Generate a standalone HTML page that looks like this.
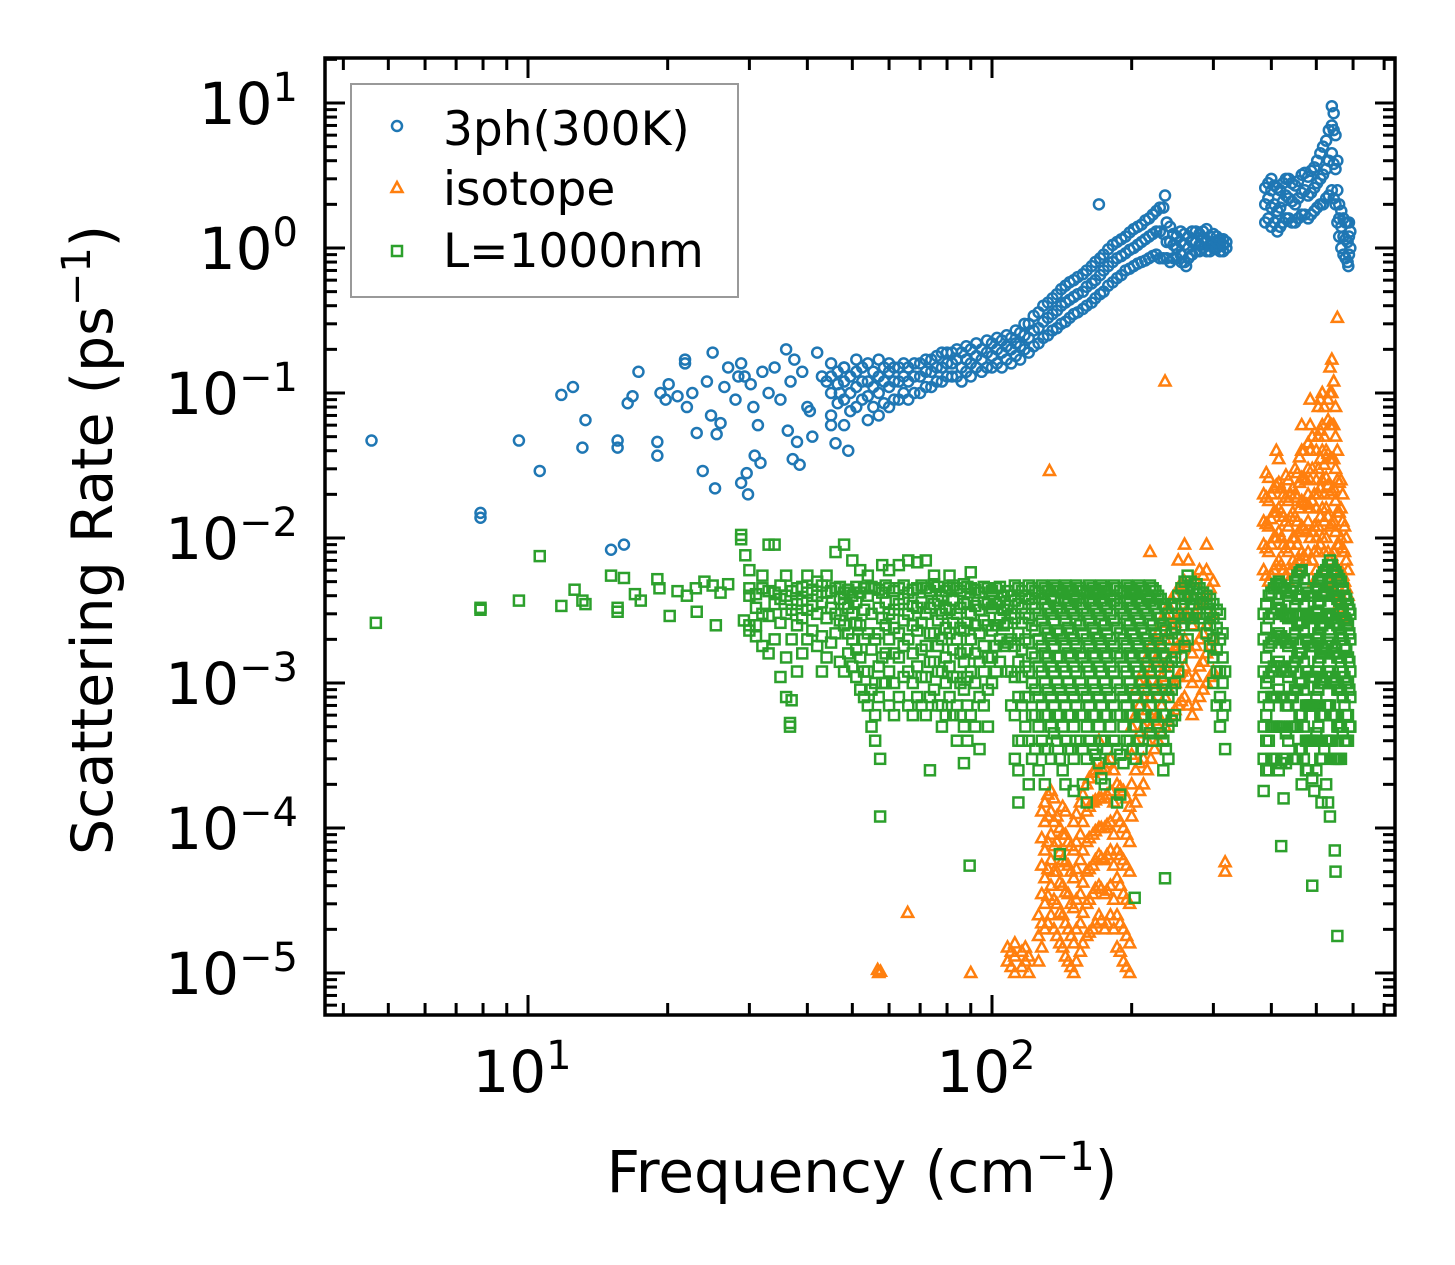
<!DOCTYPE html>
<html><head><meta charset="utf-8"><style>
html,body{margin:0;padding:0;background:#fff;}
svg{display:block;font-family:"DejaVu Sans","Liberation Sans",sans-serif;}
</style></head><body>
<svg id="chart" width="1455" height="1265" viewBox="0 0 1455 1265" xmlns="http://www.w3.org/2000/svg">
<rect width="1455" height="1265" fill="#fff"/>
<g id="marks"></g>
<g id="axes"></g>
<text x="862" y="1192" font-size="58" text-anchor="middle">Frequency (cm<tspan dy="-22" font-size="40">−1</tspan><tspan dy="22">)</tspan></text>
<text transform="translate(112,540) rotate(-90)" font-size="57" text-anchor="middle">Scattering Rate (ps<tspan dy="-22" font-size="40">−1</tspan><tspan dy="22">)</tspan></text>
<g>
<rect x="351" y="84" width="387" height="213" fill="#fff" stroke="#999" stroke-width="2"/>
<circle cx="397" cy="126" r="5" fill="none" stroke="#1f77b4" stroke-width="2.5"/>
<text x="443" y="145" font-size="47">3ph(300K)</text>
<polygon points="397,182 402.5,192 391.5,192" fill="none" stroke="#ff7f0e" stroke-width="2.5"/>
<text x="443" y="205" font-size="47">isotope</text>
<rect x="392" y="246" width="10" height="10" fill="none" stroke="#2ca02c" stroke-width="2.5"/>
<text x="443" y="267" font-size="47">L=1000nm</text>
</g>
</svg>
<script>
// ---- data ----
const threePhSparse = [[4.6,0.047],[7.9,0.0149],[7.9,0.0138],[9.56,0.047],[10.6,0.029],[11.8,0.097],[12.5,0.11],[13.1,0.042],[13.3,0.065],[15.1,0.0083],[16.1,0.009],[15.6,0.047],[15.6,0.042],[16.4,0.085],[16.8,0.095],[17.3,0.14],[19,0.046],[19,0.037],[19.3,0.1],[19.8,0.09],[20.1,0.115],[21,0.095],[21.8,0.17],[21.8,0.16],[22,0.08],[22.6,0.1],[23.1,0.053],[23.8,0.029],[24.3,0.12],[24.8,0.07],[25,0.19],[25.3,0.022],[25.5,0.052],[26,0.062],[26.5,0.11],[27,0.15],[28,0.09],[28.4,0.13],[28.8,0.16],[28.8,0.024],[29.3,0.13],[29.6,0.028],[29.8,0.02],[30.2,0.115],[30.6,0.08],[30.8,0.037],[31.3,0.06],[31.7,0.033],[32,0.14],[33,0.1],[34,0.15],[35,0.09],[36,0.2],[36.3,0.055],[36.8,0.12],[37.2,0.035],[37.5,0.17],[38,0.046],[38.5,0.032],[39,0.14],[40,0.08],[40.5,0.075],[41,0.05],[42,0.19],[43,0.13],[44,0.12],[45,0.06],[46,0.045],[47,0.1],[48,0.15],[49,0.04],[170,2.0],[236,2.3],[256,0.8],[262,0.75],[586,0.75]];
const threePhDense = [[45,[0.07,0.1,0.13,0.16]],[48,[0.06,0.09,0.12,0.15]],[51,[0.08,0.11,0.14,0.17]],[54,[0.065,0.095,0.12,0.16]],[57,[0.07,0.1,0.13,0.17]],[60,[0.08,0.11,0.14,0.16]],[63,[0.09,0.12,0.15]],[66,[0.09,0.12,0.15]],[70,[0.1,0.13,0.16]],[74,[0.11,0.14,0.17]],[78,[0.12,0.15,0.19]],[82,[0.13,0.16,0.19]],[86,[0.12,0.15,0.19]],[90,[0.13,0.16,0.2]],[95,[0.14,0.17,0.2]],[100,[0.15,0.18,0.22]],[105,[0.15,0.19,0.23]],[110,[0.16,0.2,0.24]],[115,[0.17,0.21,0.26]],[120,[0.19,0.24,0.3]],[126,[0.22,0.28,0.36]],[132,[0.25,0.33,0.42]],[138,[0.28,0.37,0.48]],[144,[0.31,0.42,0.55]],[150,[0.35,0.46,0.6]],[157,[0.38,0.5,0.66]],[164,[0.42,0.57,0.75]],[171,[0.48,0.65,0.85]],[178,[0.55,0.75,0.98]],[186,[0.62,0.85,1.1]],[194,[0.7,0.92,1.2]],[202,[0.75,1.0,1.35]],[210,[0.8,1.1,1.45]],[218,[0.85,1.2,1.6]],[226,[0.9,1.3,1.8]],[234,[0.85,1.25,1.9]],[242,[0.8,1.1,1.4]],[250,[0.85,1.0,1.2]],[260,[0.8,1.05,1.25]],[270,[0.9,1.1,1.3]],[280,[0.95,1.05,1.25]],[290,[0.95,1.1,1.35]],[300,[1.0,1.1,1.25]],[310,[0.95,1.05,1.15]],[320,[1.0,1.1]],[388,[1.5,2,2.6]],[400,[1.4,1.9,2.5,3]],[412,[1.3,1.8,2.6]],[424,[1.5,2.1,2.8]],[436,[1.6,2.2,3]],[450,[1.5,2,2.7]],[465,[1.7,2.4,3.2]],[480,[1.6,2.3,3.1]],[495,[1.8,2.6,3.6]],[510,[2,3,4.5]],[525,[2.2,3.5,5.5]],[540,[2.5,4.5,7,9.5]],[550,[2,3.5,6]],[560,[1.2,1.6,2]],[572,[0.9,1.2,1.6]],[584,[0.8,1.1,1.5]],[592,[1,1.3]]];
const threePhDenseExtra = [[46.5,[0.085,0.115,0.14]],[49.5,[0.075,0.1,0.13]],[52.5,[0.09,0.12,0.15]],[55.5,[0.08,0.11,0.14]],[58.5,[0.085,0.12,0.15]],[61.5,[0.09,0.12,0.15]],[64.5,[0.1,0.13,0.16]],[68,[0.1,0.13,0.16]],[72,[0.11,0.14,0.17]],[76,[0.12,0.15,0.18]],[80,[0.13,0.16,0.19]],[84,[0.13,0.17,0.2]],[88,[0.14,0.17,0.21]],[92.5,[0.15,0.18,0.22]],[97.5,[0.15,0.19,0.23]],[102.5,[0.16,0.2,0.24]],[107.5,[0.17,0.21,0.25]],[112.5,[0.18,0.22,0.27]],[117.5,[0.2,0.25,0.3]],[123,[0.21,0.27,0.34]],[129,[0.24,0.31,0.4]],[135,[0.27,0.35,0.45]],[141,[0.3,0.4,0.52]],[147,[0.33,0.44,0.58]],[153,[0.36,0.48,0.63]],[160,[0.4,0.54,0.7]],[167,[0.45,0.6,0.8]],[174,[0.5,0.7,0.9]],[182,[0.58,0.8,1.05]],[190,[0.65,0.88,1.15]],[198,[0.72,0.97,1.28]],[206,[0.78,1.05,1.4]],[214,[0.82,1.15,1.55]],[222,[0.88,1.25,1.7]],[230,[0.85,1.3,1.9]],[238,[0.85,1.1,1.5]],[246,[0.85,1.05,1.25]],[255,[0.9,1.1,1.3]],[265,[0.85,1.0,1.2]],[275,[0.95,1.1,1.3]],[285,[1.0,1.15,1.3]],[295,[0.95,1.05,1.2]],[305,[1.0,1.1,1.2]],[315,[0.95,1.05,1.15]],[394,[1.6,2.2,2.8]],[406,[1.5,2.0,2.7]],[418,[1.4,1.9,2.5]],[430,[1.6,2.3,3]],[443,[1.5,2.1,2.8]],[457,[1.6,2.2,2.9]],[472,[1.7,2.5,3.3]],[487,[1.7,2.4,3.4]],[502,[1.9,2.8,4]],[517,[2,3.2,5]],[532,[2.3,4,6.5]],[545,[2.2,3.8,6.5,8.5]],[555,[1.5,2.5,4]],[566,[1.0,1.4,1.8]],[578,[0.85,1.15,1.5]],[588,[0.9,1.2,1.5]]];
const isotopeSparse = [[133,0.029],[236,0.12],[65.8,2.6e-5],[90,1.0e-5],[56.7,1.05e-5],[57,1.0e-5],[57.5,1.02e-5],[318,5e-5],[318,5.8e-5],[555,0.33],[219,0.008]];
const isotopeDense = [[108,[1.2e-5,1.5e-5]],[112,[1.0e-5,1.3e-5,1.6e-5]],[116,[1.1e-5,1.4e-5]],[120,[1.0e-5,1.3e-5]],[126,[1.2e-5,1.8e-5,2.5e-5]],[130,[2e-5,3e-5,4.5e-5,7e-5,1.1e-4,1.5e-4]],[134,[2.5e-5,4e-5,6e-5,9e-5,1.3e-4,1.8e-4]],[138,[1.8e-5,3e-5,5e-5,8e-5,1.2e-4]],[142,[1.5e-5,2.5e-5,4e-5,6e-5,9e-5,1.4e-4]],[146,[1.2e-5,2e-5,3.5e-5,5.5e-5,8e-5]],[150,[1e-5,1.6e-5,2.8e-5,4.5e-5,7e-5,1.1e-4]],[155,[1.4e-5,2.2e-5,3.5e-5,6e-5,9e-5,1.5e-4]],[160,[1.8e-5,3e-5,5e-5,8e-5,1.3e-4,2e-4]],[165,[2e-5,3.5e-5,5.5e-5,9e-5,1.5e-4,2.4e-4]],[170,[2.5e-5,4e-5,6.5e-5,1e-4,1.6e-4,2.5e-4,4e-4]],[175,[2e-5,3.5e-5,6e-5,1e-4,1.6e-4,2.6e-4]],[180,[2.5e-5,4e-5,7e-5,1.1e-4,1.8e-4,3e-4]],[186,[1.5e-5,2.5e-5,4.5e-5,7e-5,1.2e-4,2e-4]],[192,[1.2e-5,2e-5,3.5e-5,6e-5,1e-4,1.8e-4]],[198,[1e-5,1.6e-5,3e-5,5e-5,8e-5,1.4e-4]],[204,[1.5e-4,2.5e-4,4e-4,6e-4,9e-4]],[212,[2e-4,3e-4,5e-4,8e-4,1.2e-3]],[220,[3e-4,5e-4,8e-4,1.2e-3,1.8e-3]],[228,[4e-4,6e-4,1e-3,1.5e-3,2.2e-3]],[236,[5e-4,8e-4,1.3e-3,2e-3,3e-3]],[244,[6e-4,1e-3,1.6e-3,2.5e-3,3.8e-3]],[252,[7e-4,1.1e-3,1.8e-3,2.8e-3,4.5e-3,7e-3]],[260,[8e-4,1.3e-3,2e-3,3e-3,5e-3,9e-3]],[270,[6e-4,1e-3,1.6e-3,2.5e-3,4e-3]],[280,[8e-4,1.3e-3,2e-3,3.5e-3,6e-3]],[290,[1e-3,1.6e-3,2.5e-3,4e-3,6e-3,9e-3]],[300,[1.2e-3,2e-3,3e-3,5e-3]],[385,[6e-3,9e-3,1.3e-2,2e-2]],[395,[5e-3,8e-3,1.2e-2,1.8e-2,2.6e-2]],[405,[6e-3,1e-2,1.5e-2,2.2e-2]],[415,[7e-3,1.1e-2,1.6e-2,2.4e-2,3.5e-2]],[425,[6e-3,9e-3,1.4e-2,2e-2]],[435,[5e-3,8e-3,1.2e-2,1.8e-2,2.5e-2]],[445,[7e-3,1e-2,1.5e-2,2.2e-2]],[455,[6e-3,9e-3,1.3e-2,1.9e-2,2.8e-2]],[465,[8e-3,1.2e-2,1.8e-2,2.6e-2,4e-2,6e-2]],[475,[7e-3,1.1e-2,1.7e-2,2.5e-2]],[485,[1e-2,1.6e-2,2.5e-2,4e-2,6e-2,9e-2]],[495,[5e-3,8e-3,1.2e-2,2e-2]],[505,[8e-3,1.2e-2,2e-2,3e-2,5e-2,8e-2]],[515,[1e-2,1.6e-2,2.5e-2,4e-2,6e-2,1e-1]],[525,[6e-3,1e-2,1.6e-2,2.6e-2,4e-2]],[535,[4e-3,7e-3,1.2e-2,2e-2,3.5e-2,6e-2,0.1,0.15]],[545,[5e-3,8e-3,1.3e-2,2.2e-2,3.5e-2,6e-2,0.12]],[555,[3e-3,5e-3,9e-3,1.5e-2,2.5e-2,4e-2]],[565,[4e-3,6e-3,1e-2,1.6e-2,2.5e-2]],[575,[3e-3,5e-3,8e-3,1.2e-2]],[585,[2.5e-3,4e-3,6e-3]]];
const isotopeDenseExtra = [[110,[1.1e-5,1.4e-5]],[118,[1.2e-5,1.5e-5]],[128,[1.5e-5,2.2e-5,3.5e-5,5.5e-5,8.5e-5,1.3e-4]],[132,[2.2e-5,3.4e-5,5.2e-5,8e-5,1.2e-4,1.7e-4]],[136,[2e-5,3.2e-5,5e-5,7.5e-5,1.1e-4,1.6e-4]],[140,[1.6e-5,2.6e-5,4.2e-5,6.8e-5,1e-4]],[144,[1.3e-5,2.2e-5,3.6e-5,5.8e-5,9e-5,1.3e-4]],[148,[1.1e-5,1.8e-5,3e-5,5e-5,7.5e-5]],[152,[1.2e-5,2e-5,3.2e-5,5.2e-5,8e-5,1.25e-4]],[157,[1.6e-5,2.6e-5,4.2e-5,7e-5,1.1e-4,1.7e-4]],[162,[1.9e-5,3.2e-5,5.2e-5,8.5e-5,1.4e-4,2.2e-4]],[167,[2.2e-5,3.8e-5,6e-5,9.5e-5,1.55e-4,2.5e-4]],[172,[2.3e-5,3.8e-5,6.2e-5,1e-4,1.6e-4,2.6e-4]],[177,[2.2e-5,3.7e-5,6.5e-5,1.05e-4,1.7e-4,2.8e-4]],[183,[2e-5,3.2e-5,5.5e-5,9e-5,1.5e-4,2.5e-4]],[189,[1.4e-5,2.2e-5,4e-5,6.5e-5,1.1e-4,1.9e-4]],[195,[1.1e-5,1.8e-5,3.2e-5,5.5e-5,9e-5,1.6e-4]],[200,[1.2e-4,2e-4,3.2e-4,5e-4]],[208,[1.8e-4,2.8e-4,4.5e-4,7e-4,1e-3]],[216,[2.5e-4,4e-4,6.5e-4,1e-3,1.5e-3]],[224,[3.5e-4,5.5e-4,9e-4,1.4e-3,2e-3]],[232,[4.5e-4,7e-4,1.1e-3,1.8e-3,2.6e-3]],[240,[5.5e-4,9e-4,1.4e-3,2.2e-3,3.4e-3]],[248,[6.5e-4,1e-3,1.7e-3,2.6e-3,4e-3]],[256,[7.5e-4,1.2e-3,1.9e-3,3e-3,4.8e-3]],[265,[7e-4,1.1e-3,1.8e-3,2.8e-3,4.5e-3,7e-3]],[275,[7e-4,1.1e-3,1.8e-3,3e-3,5e-3]],[285,[9e-4,1.4e-3,2.2e-3,3.6e-3,5.5e-3]],[295,[1.1e-3,1.8e-3,2.8e-3,4.5e-3]],[390,[5.5e-3,8.5e-3,1.25e-2,1.9e-2,2.8e-2]],[400,[5.5e-3,9e-3,1.35e-2,2e-2]],[410,[6.5e-3,1e-2,1.5e-2,2.3e-2,4e-2]],[420,[6.5e-3,1e-2,1.5e-2,2.2e-2]],[430,[5.5e-3,8.5e-3,1.3e-2,1.9e-2,2.7e-2]],[440,[6e-3,9e-3,1.4e-2,2e-2]],[450,[6.5e-3,1e-2,1.4e-2,2e-2,3e-2]],[460,[7e-3,1.1e-2,1.6e-2,2.4e-2,3.6e-2]],[470,[7.5e-3,1.15e-2,1.75e-2,2.6e-2,4e-2]],[480,[8e-3,1.3e-2,2e-2,3e-2,4.5e-2]],[490,[7e-3,1.1e-2,1.8e-2,3e-2,5e-2]],[500,[6e-3,1e-2,1.6e-2,2.5e-2,4e-2]],[510,[9e-3,1.4e-2,2.2e-2,3.5e-2,5.5e-2,9e-2]],[520,[8e-3,1.3e-2,2e-2,3.2e-2,5e-2,8e-2]],[530,[5e-3,8e-3,1.4e-2,2.3e-2,3.8e-2,6.5e-2,0.09]],[540,[4.5e-3,7.5e-3,1.25e-2,2.1e-2,3.5e-2,6e-2,0.1,0.17]],[550,[4e-3,6.5e-3,1.1e-2,1.8e-2,3e-2,5e-2,8e-2]],[560,[3.5e-3,5.5e-3,9e-3,1.5e-2,2.4e-2]],[570,[3.5e-3,5.5e-3,8.5e-3,1.3e-2,2e-2]],[580,[2.8e-3,4.5e-3,7e-3,1e-2]]];
const boundarySparse = [[4.7,0.0026],[7.9,0.0033],[7.9,0.0032],[9.56,0.0037],[10.6,0.0075],[11.8,0.0034],[12.6,0.0044],[13.1,0.0037],[13.3,0.0035],[15.1,0.0055],[15.6,0.0033],[15.6,0.0031],[16.1,0.0053],[17,0.0041],[17.5,0.0037],[19,0.0052],[19.2,0.0045],[20.2,0.0029],[21,0.0043],[22,0.004],[23,0.0045],[23.1,0.0031],[24,0.005],[25,0.0047],[25.4,0.0025],[26,0.0042],[27,0.0048],[28.8,0.0105],[28.8,0.0098],[29.4,0.0076],[29.2,0.0027],[30,0.0023],[31,0.0025],[33,0.009],[36.7,0.00053],[36.7,0.0005],[37,0.00076],[57.4,0.00012],[57.4,0.0003],[73.5,0.00025],[89.5,5.5e-5],[140,6.6e-5],[203,3.3e-5],[236,4.5e-5],[420,7.5e-5],[490,4e-5],[555,1.8e-5],[550,5e-5],[548,7e-5],[513,0.00015]];
const boundaryDense = [[30,[0.0045,0.004,0.0025,0.006]],[32,[0.0045,0.003,0.0018,0.0055]],[34,[0.0042,0.0035,0.002,0.009]],[36,[0.004,0.003,0.0015,0.0008,0.0055]],[38,[0.0045,0.0035,0.0025,0.0012]],[40,[0.0042,0.0032,0.002,0.0055]],[42,[0.004,0.003,0.0018,0.005]],[44,[0.0042,0.0028,0.0015,0.0055]],[46,[0.0045,0.003,0.0022,0.008]],[48,[0.0042,0.0035,0.0025,0.0012,0.009]],[50,[0.004,0.003,0.002,0.0013,0.007]],[52,[0.0042,0.0025,0.0015,0.0009,0.006]],[54,[0.004,0.0022,0.0012,0.0007,0.0055]],[56,[0.0045,0.002,0.001,0.0006,0.0004]],[58,[0.0042,0.0028,0.0015,0.001,0.0065]],[60,[0.0045,0.003,0.002,0.0012,0.0007,0.006]],[63,[0.0045,0.0035,0.0022,0.0015,0.0008,0.0065]],[66,[0.0042,0.003,0.002,0.0012,0.0007,0.007]],[69,[0.0045,0.0033,0.0023,0.0013,0.0008,0.0068]],[72,[0.0045,0.003,0.0018,0.0011,0.0006,0.007]],[75,[0.0048,0.0035,0.0022,0.0014,0.0009,0.0055]],[78,[0.004,0.003,0.002,0.0012,0.0007,0.0005]],[81,[0.0045,0.0032,0.0022,0.0013,0.0008,0.0055]],[84,[0.0045,0.003,0.002,0.0011,0.0007,0.0004]],[87,[0.0048,0.0035,0.0023,0.0014,0.0009,0.0005,0.00028]],[90,[0.0045,0.003,0.002,0.0012,0.0006,0.0058]],[94,[0.0042,0.0032,0.0022,0.0014,0.0008,0.00035]],[98,[0.0045,0.0035,0.0025,0.0015,0.0009,0.0005]],[102,[0.0045,0.0035,0.0025,0.0018,0.0012]],[106,[0.004,0.0032,0.0025,0.0018]],[110,[0.004,0.003,0.002,0.0012,0.0007]],[114,[0.0045,0.0035,0.0022,0.0014,0.0008,0.0004,0.00025,0.00015]],[118,[0.004,0.003,0.002,0.0013,0.0008,0.0005]],[122,[0.0045,0.0035,0.0025,0.0016,0.001,0.0006,0.0003]],[126,[0.0042,0.003,0.002,0.0013,0.0008,0.0005,0.00025]],[130,[0.0045,0.0035,0.0024,0.0016,0.001,0.0006,0.00035,0.0002]],[134,[0.004,0.003,0.002,0.0013,0.0008,0.0005,0.0003]],[138,[0.0045,0.0033,0.0023,0.0015,0.001,0.0006,0.0004]],[142,[0.0042,0.003,0.002,0.0013,0.0008,0.0005,0.00025]],[146,[0.0045,0.0035,0.0024,0.0016,0.001,0.0006,0.00035]],[150,[0.004,0.003,0.002,0.0013,0.0008,0.0005,0.0003,0.00018]],[155,[0.0045,0.0035,0.0025,0.0016,0.001,0.0006,0.0004]],[160,[0.0042,0.003,0.002,0.0013,0.0008,0.0005,0.0003,0.00015]],[165,[0.0045,0.0035,0.0024,0.0016,0.001,0.0006,0.00035]],[170,[0.0042,0.003,0.002,0.0013,0.0008,0.0005,0.00028]],[175,[0.0045,0.0035,0.0025,0.0016,0.001,0.0006,0.0004,0.0002]],[180,[0.004,0.003,0.002,0.0013,0.0008,0.0005,0.0003]],[186,[0.0045,0.0035,0.0024,0.0016,0.001,0.0006,0.00035,0.00015]],[192,[0.0042,0.003,0.002,0.0013,0.0008,0.0005,0.00028]],[198,[0.0045,0.0035,0.0025,0.0016,0.001,0.0006,0.0004]],[204,[0.0042,0.003,0.002,0.0013,0.0008,0.0005,0.0003]],[210,[0.0045,0.0035,0.0024,0.0016,0.001,0.0006,0.00035]],[216,[0.004,0.003,0.002,0.0013,0.0008,0.0005]],[222,[0.0045,0.0035,0.0025,0.0016,0.001,0.0006,0.0004]],[228,[0.004,0.003,0.002,0.0013,0.0008,0.0005]],[234,[0.0035,0.0025,0.0016,0.001,0.0006,0.0004,0.00025]],[240,[0.003,0.002,0.0013,0.0008,0.0005,0.0003]],[248,[0.0035,0.0024,0.0015,0.001,0.0006]],[256,[0.0045,0.0035,0.0025,0.0015]],[264,[0.0055,0.004,0.003,0.002]],[272,[0.0045,0.0035,0.0025]],[280,[0.0045,0.0035,0.0028]],[290,[0.004,0.0035,0.003,0.0022]],[300,[0.0035,0.0028,0.002,0.0015,0.001]],[310,[0.003,0.002,0.0012,0.0008,0.0005]],[318,[0.0012,0.0007,0.00035]],[385,[0.003,0.002,0.0012,0.0008,0.0005,0.0003,0.00018]],[395,[0.004,0.0028,0.0018,0.0011,0.0007,0.0004,0.00025]],[405,[0.0045,0.003,0.002,0.0013,0.0008,0.0005,0.0003]],[415,[0.005,0.0035,0.0022,0.0014,0.0009,0.0005,0.00025]],[425,[0.0045,0.003,0.002,0.0012,0.0008,0.0005,0.0003,0.00016]],[435,[0.004,0.0028,0.0018,0.0011,0.0007,0.0004]],[445,[0.0045,0.003,0.002,0.0013,0.0008,0.0005,0.0003]],[455,[0.0055,0.0038,0.0025,0.0015,0.0009,0.0005,0.0003]],[465,[0.006,0.004,0.0026,0.0016,0.001,0.0006,0.00035,0.0002]],[475,[0.0045,0.003,0.002,0.0012,0.0007,0.0004,0.00025]],[485,[0.004,0.0028,0.0018,0.0011,0.0007,0.0004]],[495,[0.004,0.0028,0.0018,0.0011,0.0007,0.0004,0.00018]],[505,[0.005,0.0035,0.0022,0.0014,0.0009,0.0005]],[515,[0.0055,0.004,0.0025,0.0016,0.001,0.0006,0.0003]],[525,[0.006,0.0042,0.0028,0.0018,0.0011,0.0007,0.0004,0.0002]],[535,[0.007,0.005,0.003,0.002,0.0012,0.0007,0.0004,0.00012]],[545,[0.006,0.004,0.0026,0.0016,0.001,0.0006,0.0003]],[555,[0.0055,0.0038,0.0025,0.0015,0.0009,0.0005,0.0003]],[565,[0.005,0.0035,0.0022,0.0014,0.0009,0.0005,0.0003]],[575,[0.004,0.0028,0.0018,0.0011,0.0007,0.0004]],[585,[0.0035,0.0025,0.0015,0.001,0.0006,0.0004]],[592,[0.003,0.002,0.0012,0.0008,0.0005]]];
const boundaryDenseExtra = [[31,[0.0041,0.0033,0.0021]],[33,[0.0043,0.0029,0.0016]],[35,[0.0047,0.0038,0.0026,0.0011]],[37,[0.0043,0.0032,0.002]],[39,[0.0046,0.0037,0.0028,0.0016]],[41,[0.0044,0.0034,0.0023]],[43,[0.0047,0.0036,0.0021,0.0012]],[45,[0.0043,0.0033,0.0019]],[47,[0.0046,0.0038,0.0027,0.0014]],[49,[0.0044,0.0033,0.0022,0.0016]],[51,[0.0046,0.0036,0.0026,0.0017,0.0011]],[53,[0.0045,0.0032,0.002,0.0012,0.0008]],[55,[0.0046,0.003,0.0017,0.0009,0.0005]],[57,[0.0044,0.0033,0.0022,0.0013,0.0008]],[59,[0.0047,0.0036,0.0025,0.0016,0.001]],[61.5,[0.0043,0.0032,0.0024,0.0016,0.001,0.0006]],[64.5,[0.0047,0.0038,0.0027,0.0018,0.0011]],[67.5,[0.0044,0.0034,0.0025,0.0016,0.001,0.0006]],[70.5,[0.0047,0.0036,0.0026,0.0017,0.0011,0.0007]],[73.5,[0.0043,0.0033,0.0022,0.0014,0.0008]],[76.5,[0.0046,0.0037,0.0027,0.0018,0.0012,0.0007]],[79.5,[0.0043,0.0033,0.0024,0.0015,0.001,0.0006]],[82.5,[0.0047,0.0037,0.0026,0.0017,0.0011,0.0006]],[85.5,[0.0043,0.0033,0.0024,0.0016,0.001,0.0006]],[88.5,[0.0046,0.0036,0.0026,0.0017,0.0011,0.0007,0.0004]],[92,[0.0044,0.0034,0.0025,0.0016,0.001,0.0005]],[96,[0.0046,0.0036,0.0027,0.0018,0.0012,0.0007]],[100,[0.0043,0.0033,0.0023,0.0015,0.001]],[104,[0.0046,0.0036,0.0028,0.002,0.0014]],[108,[0.0043,0.0034,0.0026,0.0019,0.0012]],[112,[0.0047,0.0037,0.0028,0.0018,0.0011,0.0006,0.0003]],[116,[0.0043,0.0033,0.0026,0.0017,0.0011,0.0007,0.0004]],[120,[0.0047,0.0038,0.0028,0.0019,0.0012,0.0008,0.0004,0.0002]],[124,[0.0043,0.0033,0.0023,0.0015,0.0009,0.0006,0.00035]],[128,[0.0047,0.0038,0.0027,0.0018,0.0012,0.0007,0.0004]],[132,[0.0043,0.0033,0.0022,0.0015,0.0009,0.0006,0.00035]],[136,[0.0047,0.0037,0.0027,0.0018,0.0012,0.0007,0.00045]],[140,[0.0043,0.0033,0.0022,0.0015,0.0009,0.0006,0.0003]],[144,[0.0047,0.0037,0.0027,0.0018,0.0012,0.0007,0.0004,0.0002]],[148,[0.0043,0.0033,0.0022,0.0015,0.0009,0.0006,0.00035]],[152,[0.0047,0.0037,0.0027,0.0018,0.0012,0.0007,0.0004]],[157,[0.0043,0.0033,0.0022,0.0015,0.0009,0.0006,0.00035,0.0002]],[162,[0.0047,0.0037,0.0027,0.0018,0.0012,0.0007,0.0004]],[167,[0.0043,0.0033,0.0022,0.0015,0.0009,0.0006,0.00032]],[172,[0.0047,0.0037,0.0027,0.0018,0.0012,0.0007,0.0004,0.00022]],[177,[0.0043,0.0033,0.0022,0.0015,0.0009,0.0006,0.00035]],[183,[0.0047,0.0037,0.0027,0.0018,0.0012,0.0007,0.0004]],[189,[0.0043,0.0033,0.0022,0.0015,0.0009,0.0006,0.00032,0.00017]],[195,[0.0047,0.0037,0.0027,0.0018,0.0012,0.0007,0.0004]],[201,[0.0043,0.0033,0.0022,0.0015,0.0009,0.0006,0.00035]],[207,[0.0047,0.0037,0.0027,0.0018,0.0012,0.0007,0.0004]],[213,[0.0043,0.0033,0.0022,0.0015,0.0009,0.0006]],[219,[0.0047,0.0037,0.0027,0.0018,0.0012,0.0007,0.00045]],[225,[0.0043,0.0033,0.0022,0.0015,0.0009,0.0006]],[231,[0.0038,0.0028,0.0018,0.0012,0.0007,0.00045]],[237,[0.0033,0.0023,0.0015,0.0009,0.0006,0.00035]],[244,[0.0033,0.0022,0.0014,0.0009,0.00055]],[252,[0.004,0.003,0.002,0.0012]],[260,[0.005,0.0038,0.0028,0.0018]],[268,[0.005,0.0038,0.0028]],[276,[0.0048,0.0038,0.003]],[285,[0.0042,0.0036,0.0028]],[295,[0.0038,0.0031,0.0025,0.0018]],[305,[0.0032,0.0024,0.0017,0.0012,0.0007]],[314,[0.0022,0.0015,0.001,0.0006]],[390,[0.0035,0.0024,0.0015,0.001,0.0006,0.0004,0.00025]],[400,[0.0042,0.003,0.0019,0.0012,0.0008,0.0005,0.0003]],[410,[0.0048,0.0033,0.0021,0.0013,0.0008,0.0005,0.0003]],[420,[0.0047,0.0032,0.0021,0.0013,0.0008,0.0005,0.00028]],[430,[0.0042,0.0029,0.0019,0.0012,0.0007,0.00045,0.00028]],[440,[0.0043,0.003,0.0019,0.0012,0.0008,0.0005]],[450,[0.005,0.0034,0.0022,0.0014,0.0009,0.0005,0.0003]],[460,[0.0058,0.004,0.0026,0.0016,0.001,0.0006,0.00035]],[470,[0.0052,0.0035,0.0023,0.0014,0.0009,0.0005,0.0003]],[480,[0.0042,0.0029,0.0019,0.0012,0.0007,0.0004,0.00025]],[490,[0.004,0.0028,0.0018,0.0011,0.0007,0.0004,0.00022]],[500,[0.0045,0.0031,0.002,0.0012,0.0008,0.00045,0.00025]],[510,[0.0052,0.0037,0.0024,0.0015,0.001,0.0006,0.0003]],[520,[0.0058,0.0041,0.0026,0.0017,0.001,0.0006,0.00035]],[530,[0.0065,0.0046,0.0029,0.0019,0.0012,0.0007,0.0004,0.00015]],[540,[0.0065,0.0045,0.0028,0.0018,0.0011,0.0006,0.0004]],[550,[0.0058,0.004,0.0026,0.0016,0.001,0.0006,0.0003]],[560,[0.0052,0.0037,0.0024,0.0015,0.0009,0.0005,0.0003]],[570,[0.0045,0.0031,0.002,0.0012,0.0008,0.00045]],[580,[0.0038,0.0027,0.0017,0.001,0.0006,0.0004]],[589,[0.0032,0.0022,0.0014,0.0009,0.0005]]];
const xTickExps = [1, 2];
const yTickExps = [1, 0, -1, -2, -3, -4, -5];

// ---- axes ----
const L = 325, R = 1395, T = 58, B = 1015;
function xs(f){ return 528 + 464 * (Math.log10(f) - 1); }
function ys(r){ return 248 - 145 * Math.log10(r); }
const NS = 'http://www.w3.org/2000/svg';
const marks = document.getElementById('marks');
const axes = document.getElementById('axes');
function mk(tag, attrs, parent){ const e = document.createElementNS(NS, tag); for (const k in attrs) e.setAttribute(k, attrs[k]); parent.appendChild(e); return e; }

function flatten(sparse, dense, extra){ const out = sparse.slice(); dense.concat(extra).forEach(d => d[1].forEach(r => out.push([d[0], r]))); return out; }

function drawCircle(p){ const e = mk('circle', {cx: xs(p[0]), cy: ys(p[1]), r: 5, fill: 'none', stroke: '#1f77b4', 'stroke-width': 2.5}, marks);
  
   }
function drawTri(p){ const x = xs(p[0]), y = ys(p[1]);
  const e = mk('polygon', {points: `${x},${y-6} ${x+5.5},${y+4} ${x-5.5},${y+4}`, fill: 'none', stroke: '#ff7f0e', 'stroke-width': 2.5}, marks);
  
   }
function drawSq(p){ const e = mk('rect', {x: xs(p[0]) - 5, y: ys(p[1]) - 5, width: 10, height: 10, fill: 'none', stroke: '#2ca02c', 'stroke-width': 2.5}, marks);
  
   }

flatten(threePhSparse, threePhDense, threePhDenseExtra).forEach(drawCircle);
flatten(isotopeSparse, isotopeDense, isotopeDenseExtra).forEach(drawTri);
flatten(boundarySparse, boundaryDense, boundaryDenseExtra).forEach(drawSq);

// frame
const frame = mk('rect', {x: L, y: T, width: R - L, height: B - T, fill: 'none', stroke: '#000', 'stroke-width': 3.5}, axes);



// x ticks
for (let e = 0; e <= 3; e++) for (let m = 1; m <= 9; m++) {
  const v = m * Math.pow(10, e), x = xs(v);
  if (x < L || x > R) continue;
  const len = m === 1 ? 20 : 12;
  const t1 = mk('line', {x1: x, x2: x, y1: B, y2: B - len, stroke: '#000', 'stroke-width': 3}, axes);
  
  
  const t2 = mk('line', {x1: x, x2: x, y1: T, y2: T + len, stroke: '#000', 'stroke-width': 3}, axes);
  
  
}
xTickExps.forEach(e => {
  const x = xs(Math.pow(10, e));
  const t = mk('text', {x: x - 6, y: 1092, 'font-size': 58, 'text-anchor': 'middle'}, axes);
  
  
  t.innerHTML = '10<tspan dy="-23" font-size="40">' + e + '</tspan>';
});
// y ticks
for (let e = -6; e <= 1; e++) for (let m = 1; m <= 9; m++) {
  const v = m * Math.pow(10, e), y = ys(v);
  if (y < T || y > B) continue;
  const len = m === 1 ? 20 : 12;
  const t1 = mk('line', {x1: L, x2: L + len, y1: y, y2: y, stroke: '#000', 'stroke-width': 3}, axes);
  
  
  const t2 = mk('line', {x1: R, x2: R - len, y1: y, y2: y, stroke: '#000', 'stroke-width': 3}, axes);
  
  
}
yTickExps.forEach(e => {
  const y = ys(Math.pow(10, e));
  const t = mk('text', {x: 298, y: y + 21, 'font-size': 58, 'text-anchor': 'end'}, axes);
  
  
  const lbl = e < 0 ? '−' + (-e) : '' + e;
  t.innerHTML = '10<tspan dy="-23" font-size="40">' + lbl + '</tspan>';
});
</script>
</body></html>
